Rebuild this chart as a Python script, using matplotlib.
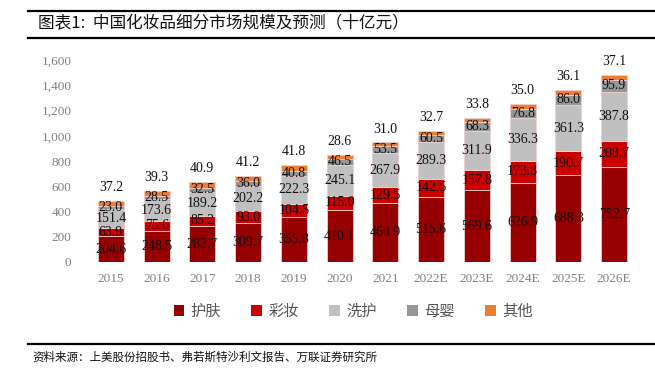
import matplotlib
matplotlib.use("Agg")
import matplotlib.pyplot as plt
import numpy as np
from matplotlib.patches import Rectangle
from matplotlib.lines import Line2D

years = ["2015", "2016", "2017", "2018", "2019", "2020", "2021",
         "2022E", "2023E", "2024E", "2025E", "2026E"]
skincare = [204.6, 248.5, 282.7, 309.7, 355.8, 410.1, 464.9, 515.6, 569.6, 626.9, 688.3, 752.7]
makeup = [63.9, 75.6, 85.2, 93.0, 104.5, 115.0, 129.5, 142.5, 157.8, 173.8, 190.7, 208.7]
haircare = [151.4, 173.6, 189.2, 202.2, 222.3, 245.1, 267.9, 289.3, 311.9, 336.3, 361.3, 387.8]
baby = [23.0, 28.5, 32.5, 36.0, 40.8, 46.5, 53.5, 60.5, 68.3, 76.8, 86.0, 95.9]
other = [37.2, 39.3, 40.9, 41.2, 41.8, 28.6, 31.0, 32.7, 33.8, 35.0, 36.1, 37.1]
series_names = ["护肤", "彩妆", "洗护", "母婴", "其他"]
colors = ["#960000", "#CC0000", "#C0C0C0", "#969696", "#ED7D31"]
yticks = [0, 200, 400, 600, 800, 1000, 1200, 1400, 1600]

cjk = ["Noto Sans CJK SC", "DejaVu Sans"]
numfont = ["Liberation Serif", "DejaVu Serif"]

fig = plt.figure(figsize=(6.55, 3.69), dpi=100)
ax = fig.add_axes([88/655, 1-262/369, (637-88)/655, (262-60)/369])

x = np.arange(len(years))
series = [skincare, makeup, haircare, baby, other]
bottom = np.zeros(len(years))
width = 0.57
for i, (vals, c) in enumerate(zip(series, colors)):
    vals = np.array(vals)
    ax.bar(x, vals, width, bottom=bottom, color=c, edgecolor="#F0D0D0", linewidth=0.6)
    for xi, b, v in zip(x, bottom, vals):
        if i == 4:
            ax.annotate(f"{v:.1f}", (xi, b + v), xytext=(0, 5), textcoords="offset points",
                        ha="center", va="bottom", fontsize=10, family=numfont, color="#111111")
        else:
            ax.text(xi, b + v / 2, f"{v:.1f}", ha="center", va="center",
                    fontsize=10, family=numfont, color="#111111")
    bottom = bottom + vals

ax.set_xlim(-0.5, len(years) - 0.5)
ax.set_ylim(0, 1600)
ax.set_yticks(yticks)
ax.set_yticklabels([f"{v:,}" for v in yticks], family=numfont, fontsize=9.5, color="#808080")
ax.set_xticks(x)
ax.set_xticklabels(years, family=numfont, fontsize=9.5, color="#808080")
ax.tick_params(axis="y", length=0, pad=12)
ax.tick_params(axis="x", length=0, pad=8)
for s in ax.spines.values():
    s.set_visible(False)

# legend
handles = [Rectangle((0, 0), 1, 1, facecolor=c, edgecolor="none") for c in colors]
leg = fig.legend(handles, series_names, loc="center", bbox_to_anchor=(353/655, 1-311/369),
                 ncol=5, frameon=False, handlelength=0.7, handleheight=0.7,
                 columnspacing=2.0, handletextpad=0.4,
                 prop={"family": cjk, "size": 11})
for t in leg.get_texts():
    t.set_color("#555555")

# title and rules
fig.add_artist(Line2D([28/655, 1], [1-11/369, 1-11/369], color="black", lw=1.6))
fig.add_artist(Line2D([28/655, 1], [1-38/369, 1-38/369], color="black", lw=1.6))
fig.text(38/655, 1-24/369, "图表1:  中国化妆品细分市场规模及预测（十亿元）", ha="left", va="center",
         fontsize=12, family=cjk, color="#111111")
fig.add_artist(Line2D([28/655, 1], [1-344/369, 1-344/369], color="black", lw=1.6))
fig.text(32/655, 1-357/369, "资料来源：上美股份招股书、弗若斯特沙利文报告、万联证券研究所", ha="left", va="center",
         fontsize=8.3, family=cjk, style="italic", color="#111111")

fig.savefig("out.png", dpi=100)
